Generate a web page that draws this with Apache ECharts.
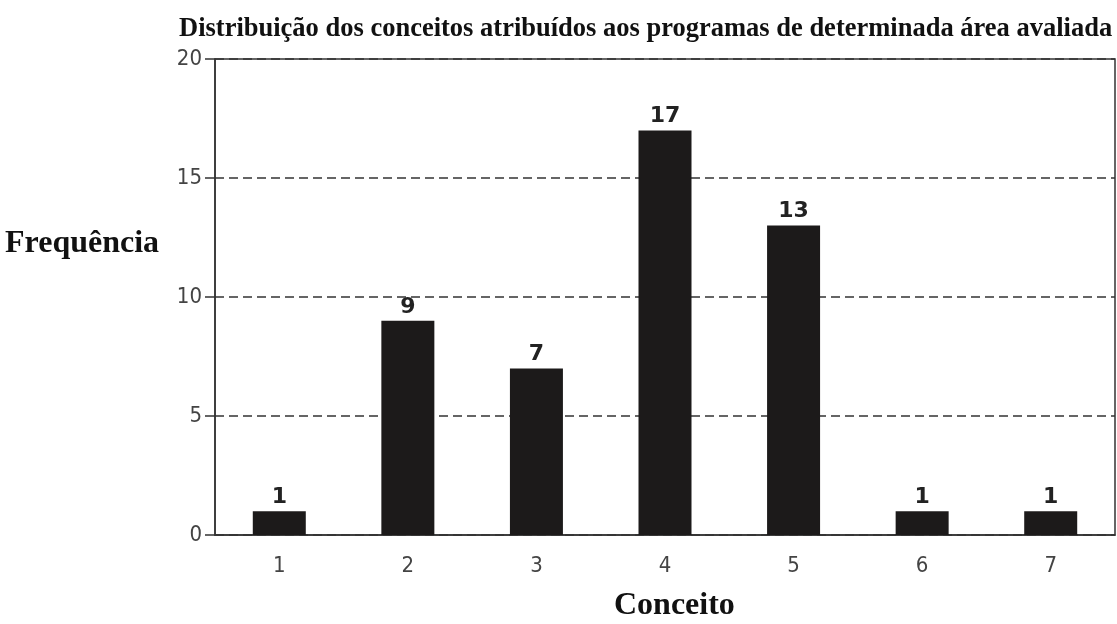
<!DOCTYPE html>
<html>
<head>
<meta charset="utf-8">
<script src="https://cdn.jsdelivr.net/npm/echarts@6/dist/echarts.min.js"></script>
<style>
  html, body { margin: 0; padding: 0; background: #fff; }
  #chart { width: 1117px; height: 624px; }
</style>
</head>
<body>
<div id="chart"></div>
<script>
// conceitos (eixo x)
const conceitos = ['1', '2', '3', '4', '5', '6', '7'];
// frequência de cada conceito
const frequencias = [1, 9, 7, 17, 13, 1, 1];
// marcas do eixo y
const yTicks = [0, 5, 10, 15, 20];

const chart = echarts.init(document.getElementById('chart'));

chart.setOption({
    backgroundColor: '#fff',
    animation: false,
    title: {
        text: 'Distribuição dos conceitos atribuídos aos programas de determinada área avaliada',
        left: 174,
        top: 11,
        textStyle: {
            fontFamily: 'Liberation Serif',
            fontWeight: 'bold',
            fontSize: 26.5,
            color: '#111'
        }
    },
    graphic: [
        {
            type: 'text',
            left: 5,
            top: 228,
            style: {
                text: 'Frequência',
                font: 'bold 32px "Liberation Serif"',
                fill: '#111'
            }
        },
        {
            type: 'text',
            left: 614,
            top: 590,
            style: {
                text: 'Conceito',
                font: 'bold 32px "Liberation Serif"',
                fill: '#111'
            }
        }
    ],
    grid: {
        left: 215,
        right: 2,
        top: 59,
        bottom: 89,
        show: true,
        borderColor: '#333',
        borderWidth: 1.5,
        containLabel: false
    },
    xAxis: {
        type: 'category',
        data: conceitos,
        axisLine: { lineStyle: { color: '#333', width: 1.5 } },
        axisTick: { alignWithLabel: true, length: 10, lineStyle: { color: '#333', width: 1.5 } },
        axisLabel: {
            margin: 20,
            fontFamily: 'DejaVu Sans Condensed',
            fontSize: 22,
            color: '#444'
        },
        splitLine: { show: false }
    },
    yAxis: {
        type: 'value',
        min: yTicks[0],
        max: yTicks[yTicks.length - 1],
        interval: 5,
        axisLine: { show: true, lineStyle: { color: '#333', width: 1.5 } },
        axisTick: { show: true, length: 10, lineStyle: { color: '#333', width: 1.5 } },
        axisLabel: {
            margin: 13,
            fontFamily: 'DejaVu Sans Condensed',
            fontSize: 22,
            color: '#444'
        },
        splitLine: {
            show: true,
            lineStyle: { color: '#333', type: [9, 5], width: 1.5 }
        }
    },
    series: [
        {
            type: 'bar',
            data: frequencias,
            barWidth: 53,
            itemStyle: { color: '#1c1a1a' },
            label: {
                show: true,
                position: 'top',
                distance: 3,
                fontFamily: 'DejaVu Sans',
                fontWeight: 'bold',
                fontSize: 22,
                color: '#222'
            }
        }
    ]
});
</script>
</body>
</html>
